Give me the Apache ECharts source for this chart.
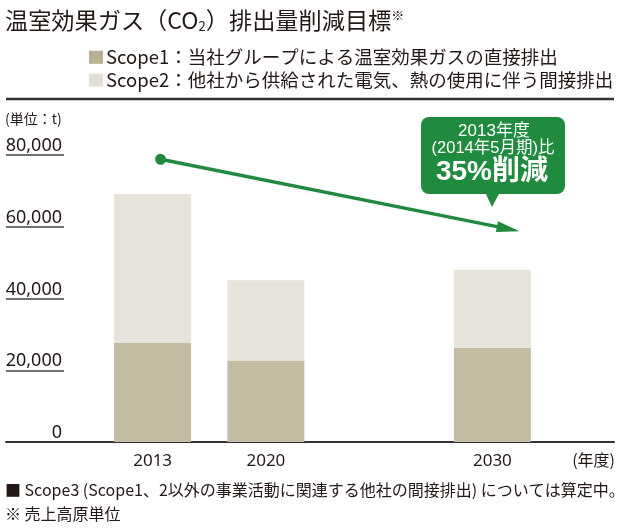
<!DOCTYPE html>
<html>
<head>
<meta charset="utf-8">
<script src="https://cdn.jsdelivr.net/npm/echarts@6/dist/echarts.min.js"></script>
<style>
    html, body { margin: 0; padding: 0; background: #fff; }
    #chart { width: 624px; height: 530px; }
</style>
</head>
<body>
<div id="chart"></div>
<script>
// データ（単位：t）
const years = ['2013', '2020', '', '2030'];
const scope1 = [27600, 22700, '-', 26300];
const scope2 = [41500, 22400, '-', 21700];
const yTickLabels = ['0', '20,000', '40,000', '60,000', '80,000'];
// 削減の矢印（x はカテゴリ位置、y は値）
const arrowX = [0.07, 3.14];
const arrowY = [78800, 59400];

const seriesNames = [
    'Scope1：当社グループによる温室効果ガスの直接排出',
    'Scope2：他社から供給された電気、熱の使用に伴う間接排出'
];

const FONT = '"Noto Sans CJK JP", "Noto Sans", sans-serif';
const NUM_FONT = '"Noto Sans", sans-serif';
const BOX_FONT = '"Liberation Sans", "Noto Sans CJK JP", sans-serif';
const INK = '#231815';
const GREEN = '#208a3e';
const C1 = '#c3bca3';
const C2 = '#e6e3da';

const chart = echarts.init(document.getElementById('chart'), null, { renderer: 'canvas' });

const gridTop = 155, gridBottom = 88;

const option = {
    animation: false,
    textStyle: { fontFamily: FONT, color: INK },
    title: [
        {
            text: '温室効果ガス（CO{sub|2}）排出量削減目標{sup|※}',
            left: 5, top: 9, padding: 0,
            textStyle: {
                fontFamily: FONT, fontSize: 23.2, fontWeight: 'normal', color: INK,
                rich: {
                    sub: { fontFamily: FONT, fontSize: 13, color: INK, verticalAlign: 'bottom', padding: [8, 0, 0, 0] },
                    sup: { fontFamily: FONT, fontSize: 13, fontWeight: 'bold', color: INK, verticalAlign: 'top', padding: [0, 0, 9, 0] }
                }
            }
        },
        {
            text: '(単位：t)', left: 5, top: 112, padding: 0,
            textStyle: { fontFamily: FONT, fontSize: 14, fontWeight: 'normal', color: INK }
        },
        {
            text: '(年度)', right: 9, top: 452, padding: 0,
            textStyle: { fontFamily: FONT, fontSize: 16, fontWeight: 'normal', color: INK }
        },
        {
            text: '■ Scope3 (Scope1、2以外の事業活動に関連する他社の間接排出) については算定中。',
            left: 5, top: 482, padding: 0,
            textStyle: { fontFamily: FONT, fontSize: 16, fontWeight: 'normal', color: INK }
        },
        {
            text: '※ 売上高原単位', left: 5, top: 506, padding: 0,
            textStyle: { fontFamily: FONT, fontSize: 16, fontWeight: 'normal', color: INK }
        }
    ],
    legend: {
        orient: 'vertical',
        left: 89, top: 48, padding: 0,
        itemWidth: 14, itemHeight: 13, itemGap: 4.5,
        icon: 'rect',
        selectedMode: false,
        textStyle: { fontFamily: FONT, fontSize: 18.5, color: INK, padding: [0, 0, 0, -2] },
        data: [
            { name: seriesNames[0], itemStyle: { color: '#b9b192' } },
            { name: seriesNames[1], itemStyle: { color: '#e2dfd4' } }
        ]
    },
    grid: [
        // 目盛ラベルと下線
        { left: 6, width: 58, top: gridTop, bottom: gridBottom },
        // 横軸の基線
        { left: 6, right: 10, top: gridTop, bottom: gridBottom },
        // 棒グラフ
        { left: 96, right: 75, top: gridTop, bottom: gridBottom }
    ],
    xAxis: [
        { gridIndex: 0, type: 'value', min: 0, max: 1, show: false },
        {
            gridIndex: 1, type: 'value', min: 0, max: 1,
            axisLine: { show: true, lineStyle: { color: '#333', width: 2 } },
            axisTick: { show: false }, axisLabel: { show: false }, splitLine: { show: false }
        },
        {
            gridIndex: 2, type: 'category', data: years,
            axisLine: { show: false }, axisTick: { show: false },
            axisLabel: { fontFamily: NUM_FONT, fontSize: 17, color: INK, margin: 11 }
        },
        { gridIndex: 2, type: 'value', min: -0.5, max: 3.5, show: false }
    ],
    yAxis: [
        {
            gridIndex: 0, type: 'value', position: 'right',
            min: 0, max: 80000, interval: 20000,
            axisLine: { show: false }, axisTick: { show: false },
            axisLabel: {
                inside: true, margin: 2, verticalAlign: 'bottom',
                fontFamily: NUM_FONT, fontSize: 18, color: INK,
                formatter: v => yTickLabels[v / 20000]
            },
            splitLine: { show: true, lineStyle: { color: '#444', width: 1.5 } }
        },
        { gridIndex: 1, type: 'value', min: 0, max: 1, show: false },
        { gridIndex: 2, type: 'value', min: 0, max: 80000, show: false }
    ],
    graphic: [
        {
            type: 'line', silent: true,
            shape: { x1: 6, y1: 99, x2: 614, y2: 99 },
            style: { stroke: '#333', lineWidth: 2.5 }
        },
        {
            type: 'group', silent: true,
            children: [
                { type: 'rect', shape: { x: 421, y: 117, width: 144, height: 77, r: 8 }, style: { fill: GREEN } },
                { type: 'polygon', shape: { points: [[485, 192], [500, 192], [492, 207]] }, style: { fill: GREEN } },
                {
                    type: 'text', x: 494, y: 131,
                    style: { text: '2013年度', fill: '#fff', font: '17px ' + BOX_FONT, align: 'center', verticalAlign: 'middle' }
                },
                {
                    type: 'text', x: 493, y: 148,
                    style: { text: '(2014年5月期)比', fill: '#fff', font: '16.5px ' + BOX_FONT, align: 'center', verticalAlign: 'middle' }
                },
                {
                    type: 'text', x: 492, y: 172,
                    style: { text: '35%削減', fill: '#fff', font: 'bold 28px ' + BOX_FONT, align: 'center', verticalAlign: 'middle' }
                }
            ]
        }
    ],
    series: [
        {
            name: seriesNames[0], type: 'bar', stack: 'total',
            xAxisIndex: 2, yAxisIndex: 2, barWidth: 77,
            itemStyle: { color: C1 },
            data: scope1
        },
        {
            name: seriesNames[1], type: 'bar', stack: 'total',
            xAxisIndex: 2, yAxisIndex: 2, barWidth: 77,
            itemStyle: { color: C2 },
            data: scope2
        },
        {
            name: 'arrow', type: 'line', xAxisIndex: 3, yAxisIndex: 2,
            showSymbol: false, silent: true,
            lineStyle: { width: 0, opacity: 0 },
            data: arrowX.map((x, i) => [x, arrowY[i]]),
            markLine: {
                silent: true, animation: false,
                symbol: ['circle', 'triangle'],
                symbolSize: [11, 23],
                label: { show: false },
                lineStyle: { color: GREEN, width: 3.5, type: 'solid' },
                data: [[
                    { coord: [arrowX[0], arrowY[0]] },
                    { coord: [arrowX[1], arrowY[1]] }
                ]]
            }
        }
    ]
};

chart.setOption(option);
</script>
</body>
</html>
